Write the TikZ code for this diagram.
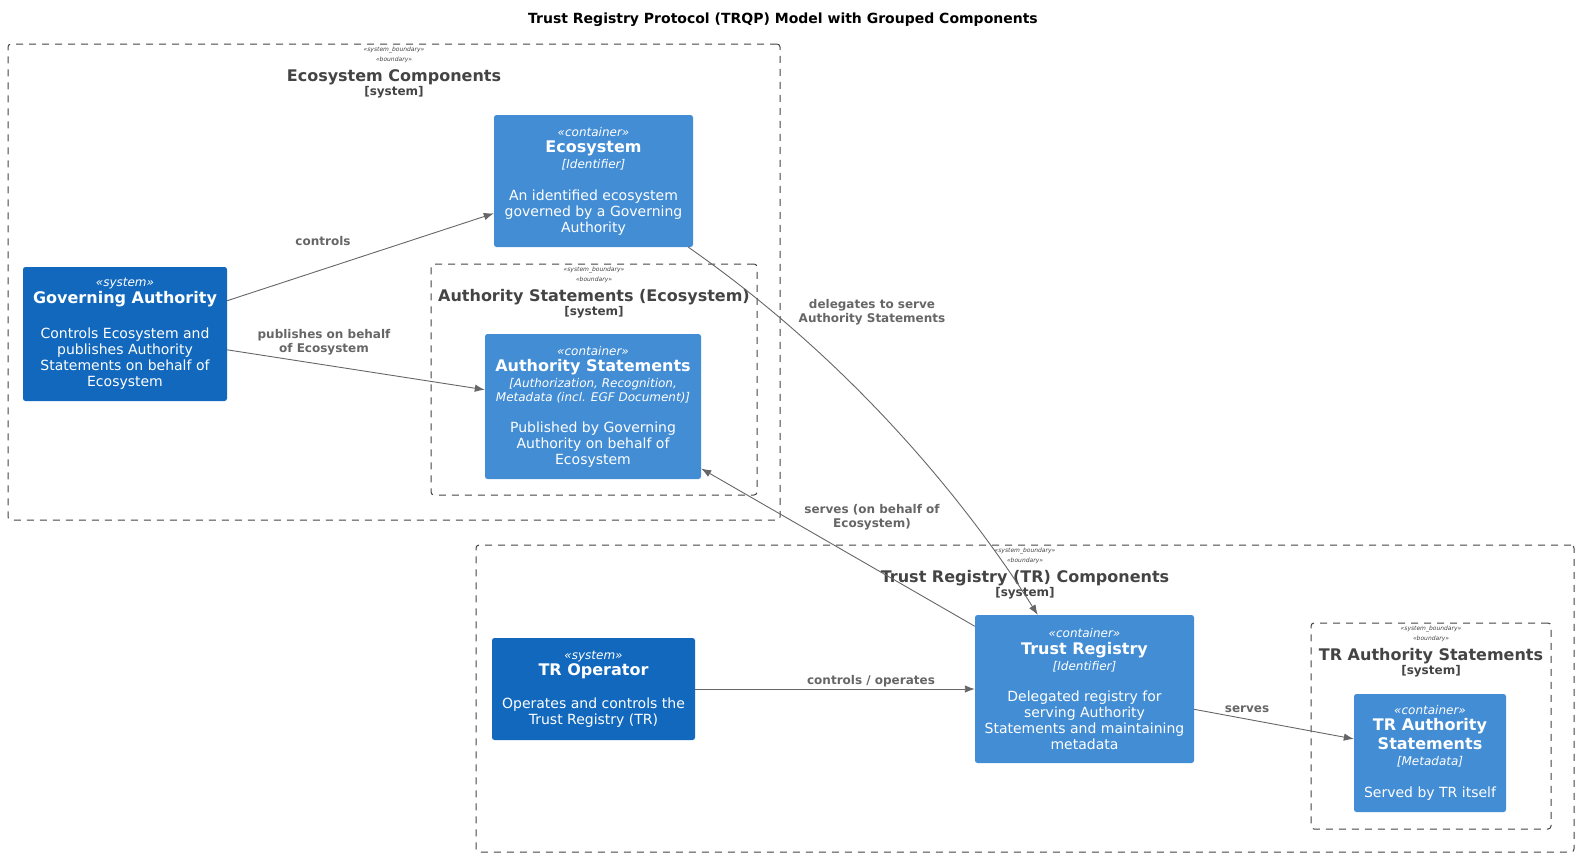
\documentclass[tikz,border=0pt]{standalone}
\usepackage{fontspec}
\setmainfont{DejaVu Sans}
\usepackage{tikz}
\usetikzlibrary{arrows.meta,positioning}

\definecolor{sysblue}{HTML}{1168BD}
\definecolor{ctrblue}{HTML}{438DD5}
\definecolor{linegray}{HTML}{666666}
\definecolor{bndgray}{HTML}{444444}

\begin{document}
\begin{tikzpicture}[x=1pt,y=-1pt,>={Latex[length=10pt,width=7.5pt]},
    box/.style={rectangle, rounded corners=2.5pt, inner sep=0pt, align=center,
        text=white, font=\fontsize{14}{16}\selectfont},
    sysbox/.style={box, fill=sysblue},
    ctrbox/.style={box, fill=ctrblue},
    bnd/.style={draw=bndgray, dash pattern=on 7pt off 6pt, rounded corners=3pt, line width=1pt, inner sep=0pt},
    bndlabel/.style={anchor=north, inner sep=0pt, align=center, text=bndgray,
        font=\fontsize{16}{16}\selectfont},
    rel/.style={->, draw=linegray, line width=0.9pt},
    elabel/.style={inner sep=0pt, align=center, text=linegray,
        font=\bfseries\fontsize{12}{14}\selectfont}]
    \useasboundingbox (0,0) rectangle (1579,857);

    % Title
    \node[font=\bfseries\fontsize{14}{16}\selectfont] (title) at (783,20)
        {Trust Registry Protocol (TRQP) Model with Grouped Components};

    % Boundaries
    \node[bnd, minimum width=772, minimum height=476] (eco-bnd) at (394,282) {};
    \node[bnd, minimum width=326, minimum height=231] (as-bnd) at (594,379.5) {};
    \node[bnd, minimum width=1098, minimum height=307] (tr-bnd) at (1025,698.5) {};
    \node[bnd, minimum width=240, minimum height=206] (tras-bnd) at (1431,726) {};

    % Boundary labels
    \foreach \b/\t in {eco-bnd/Ecosystem Components,
                       as-bnd/Authority Statements (Ecosystem),
                       tr-bnd/Trust Registry (TR) Components,
                       tras-bnd/TR Authority Statements}
    {
        \node[bndlabel] (\b-label) at ([yshift=-3.5]\b.north)
            {{\itshape\fontsize{6}{7}\selectfont «system\_boundary»}\\[-6pt]
             {\itshape\fontsize{6}{7}\selectfont «boundary»}\\[4pt]
             {\bfseries \t}\\[-2.5pt]
             {\bfseries\fontsize{12}{14}\selectfont [system]}};
    }

    % Systems
    \node[sysbox, minimum width=204, minimum height=134] (gov-auth) at (125,334)
        {{\itshape\fontsize{12}{14}\selectfont «system»}\\[1pt]
         {\bfseries\fontsize{16}{19}\selectfont Governing Authority}\\[19pt]
         Controls Ecosystem and\\ publishes Authority\\ Statements on behalf of\\ Ecosystem};
    \node[sysbox, minimum width=203, minimum height=102] (tr-op) at (593.5,689)
        {{\itshape\fontsize{12}{14}\selectfont «system»}\\
         {\bfseries\fontsize{16}{19}\selectfont TR Operator}\\[17pt]
         Operates and controls the\\ Trust Registry (TR)};

    % Containers
    \node[ctrbox, minimum width=199, minimum height=132] (ecosystem) at (593.5,181)
        {{\itshape\fontsize{12}{14}\selectfont «container»}\\
         {\bfseries\fontsize{16}{19}\selectfont Ecosystem}\\
         {\itshape\fontsize{12}{14}\selectfont [Identifier]}\\[16pt]
         An identified ecosystem\\ governed by a Governing\\ Authority};
    \node[ctrbox, minimum width=216, minimum height=145] (auth-stmts) at (593,406.5)
        {{\itshape\fontsize{12}{14}\selectfont «container»}\\
         {\bfseries\fontsize{16}{19}\selectfont Authority Statements}\\
         {\itshape\fontsize{12}{14}\selectfont [Authorization, Recognition,}\\[-2pt]
         {\itshape\fontsize{12}{14}\selectfont Metadata (incl. EGF Document)]}\\[15pt]
         Published by Governing\\ Authority on behalf of\\ Ecosystem};
    \node[ctrbox, minimum width=219, minimum height=148] (trust-reg) at (1084.5,689)
        {{\itshape\fontsize{12}{14}\selectfont «container»}\\[1pt]
         {\bfseries\fontsize{16}{19}\selectfont Trust Registry}\\
         {\itshape\fontsize{12}{14}\selectfont [Identifier]}\\[15pt]
         Delegated registry for\\ serving Authority\\ Statements and maintaining\\ metadata};
    \node[ctrbox, minimum width=152, minimum height=118] (tr-auth-stmts) at (1430,753)
        {{\itshape\fontsize{12}{14}\selectfont «container»}\\
         {\bfseries\fontsize{16}{19}\selectfont TR Authority}\\[3pt]
         {\bfseries\fontsize{16}{19}\selectfont Statements}\\
         {\itshape\fontsize{12}{14}\selectfont [Metadata]}\\[16pt]
         Served by TR itself};

    % Relations
    \draw[rel] (gov-auth) -- (ecosystem);
    \draw[rel] (gov-auth) -- (auth-stmts);
    \draw[rel] (ecosystem) .. controls (850,360) and (965,500) .. (trust-reg);
    \draw[rel] (trust-reg) -- (auth-stmts);
    \draw[rel] (tr-op) -- (trust-reg);
    \draw[rel] (trust-reg) -- (tr-auth-stmts);

    % Relation labels
    \node[elabel] (lbl-controls) at (323,241) {controls};
    \node[elabel] (lbl-publishes) at (324,342) {publishes on behalf\\ of Ecosystem};
    \node[elabel] (lbl-delegates) at (872,312) {delegates to serve\\ Authority Statements};
    \node[elabel] (lbl-serves-eco) at (872,517) {serves (on behalf of\\ Ecosystem)};
    \node[elabel] (lbl-operates) at (871,681) {controls / operates};
    \node[elabel] (lbl-serves) at (1247,709) {serves};
\end{tikzpicture}
\end{document}
